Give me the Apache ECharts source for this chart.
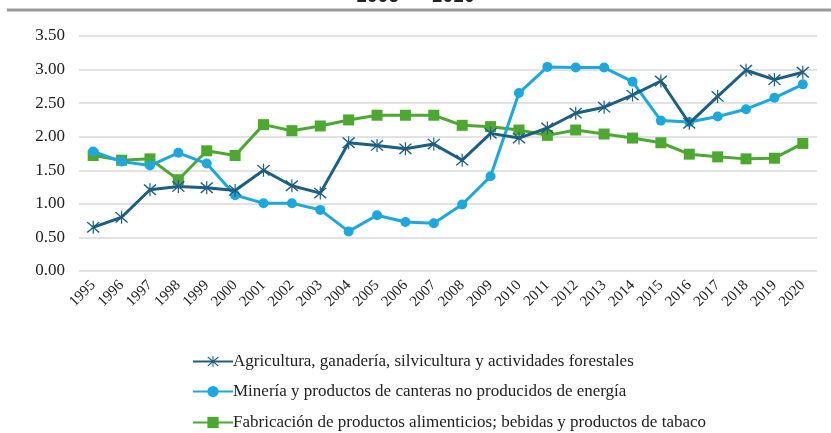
<!DOCTYPE html>
<html>
<head>
<meta charset="utf-8">
<script src="https://cdn.jsdelivr.net/npm/echarts@6/dist/echarts.min.js"></script>
<style>
html,body{margin:0;padding:0;background:#fff;}
#chart{width:831px;height:433px;}
</style>
</head>
<body>
<div id="chart"></div>
<script>
var years = ['1995','1996','1997','1998','1999','2000','2001','2002','2003','2004','2005','2006','2007','2008','2009','2010','2011','2012','2013','2014','2015','2016','2017','2018','2019','2020'];
var agricultura = [0.65,0.80,1.21,1.26,1.24,1.20,1.50,1.27,1.16,1.91,1.87,1.82,1.89,1.65,2.05,1.98,2.13,2.35,2.44,2.62,2.83,2.20,2.60,2.99,2.85,2.96];
var mineria = [1.78,1.63,1.57,1.76,1.60,1.13,1.01,1.01,0.91,0.59,0.83,0.73,0.71,0.99,1.41,2.65,3.04,3.03,3.03,2.82,2.24,2.22,2.30,2.41,2.58,2.78];
var alimentos = [1.72,1.65,1.67,1.36,1.79,1.72,2.18,2.09,2.16,2.25,2.32,2.32,2.32,2.17,2.15,2.10,2.02,2.10,2.04,1.98,1.91,1.74,1.70,1.67,1.68,1.90];
var seriesNames = ['Agricultura, ganadería, silvicultura y actividades forestales','Minería y productos de canteras no producidos de energía','Fabricación de productos alimenticios; bebidas y productos de tabaco'];
var titleText = '1995 - 2020';

var asterisk = 'path://M9.2,0L10.8,0L10.8,20L9.2,20Z M2.7,1.3L18.7,17.3L17.3,18.7L1.3,2.7Z M17.3,1.3L18.7,2.7L2.7,18.7L1.3,17.3Z';
var serif = '"Liberation Serif", "Times New Roman", serif';

function legendFor(i, top){
  return {
    orient:'horizontal',left:187,top:top,itemWidth:40,itemHeight:14,
    textStyle:{fontFamily:serif,fontSize:17,color:'#222',padding:[0,0,0,-5]},
    data:[seriesNames[i]]
  };
}

var chart = echarts.init(document.getElementById('chart'), null, {renderer:'canvas'});
chart.setOption({
  animation:false,
  backgroundColor:'#fff',
  title:{text:titleText,left:'center',top:-12,padding:0,textStyle:{fontFamily:'"Liberation Mono", monospace',fontWeight:'bold',fontSize:18,color:'#222'}},
  graphic:[{type:'line',shape:{x1:7,y1:10,x2:831,y2:10},style:{stroke:'#999',lineWidth:3}}],
  grid:{left:79,right:14,top:36,bottom:162},
  legend:[legendFor(0,348),legendFor(1,378),legendFor(2,409)],
  xAxis:{
    type:'category',data:years,boundaryGap:true,
    axisLine:{show:false},axisTick:{show:false},
    axisLabel:{rotate:45,fontFamily:serif,fontSize:15,color:'#222',margin:12,interval:0}
  },
  yAxis:{
    type:'value',min:0,max:3.5,interval:0.5,
    axisLine:{show:false},axisTick:{show:false},
    axisLabel:{fontFamily:serif,fontSize:17,color:'#222',margin:14,formatter:function(v){return v.toFixed(2);}},
    splitLine:{lineStyle:{color:'#d9d9d9',width:1.5}}
  },
  series:[
    {name:seriesNames[0],type:'line',data:agricultura,symbol:asterisk,symbolSize:13,
     lineStyle:{color:'#1d5f80',width:3},itemStyle:{color:'#1d5f80'},z:3},
    {name:seriesNames[1],type:'line',data:mineria,symbol:'circle',symbolSize:10,
     lineStyle:{color:'#1ea7dc',width:3},itemStyle:{color:'#1ea7dc'},z:2},
    {name:seriesNames[2],type:'line',data:alimentos,symbol:'rect',symbolSize:11,
     lineStyle:{color:'#4da832',width:3},itemStyle:{color:'#4da832'},z:1}
  ]
});
</script>
</body>
</html>
